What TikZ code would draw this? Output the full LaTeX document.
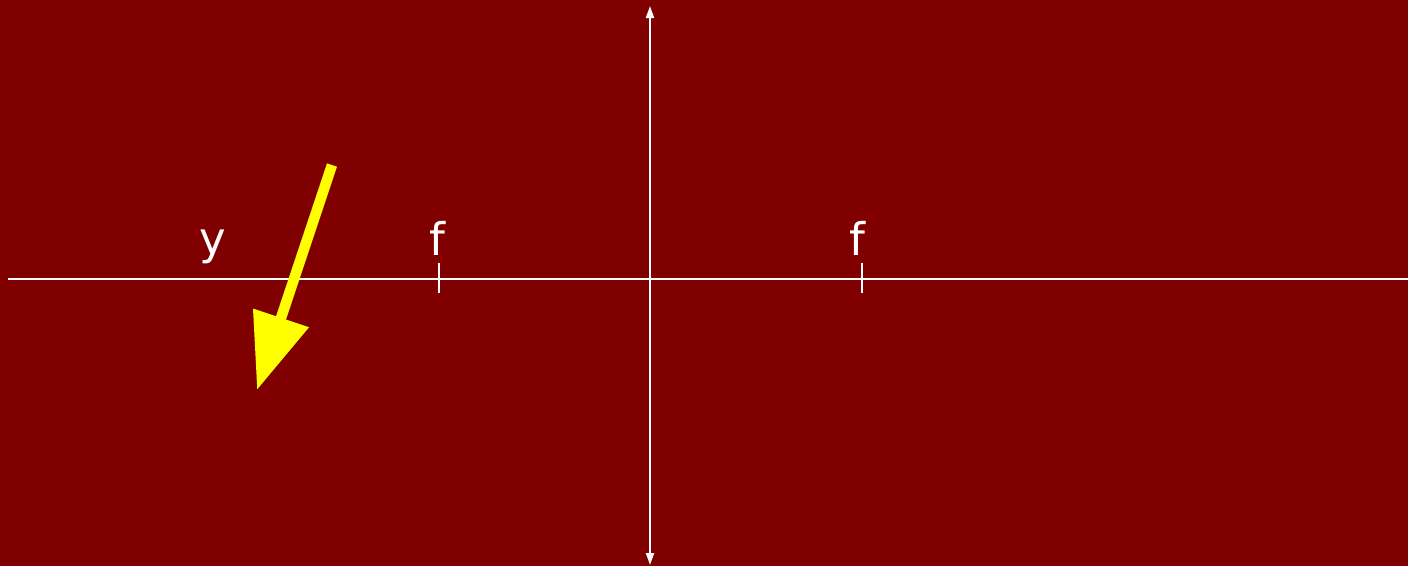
\documentclass[tikz,border=0pt]{standalone}
\usepackage{fontspec}
\setmainfont{DejaVu Sans}
\definecolor{board}{RGB}{128,0,0}
\definecolor{ray}{RGB}{255,255,0}
\usetikzlibrary{arrows.meta}
\tikzset{
  axis/.style={white,line width=2pt},
  tick/.style={white,line width=2pt},
  lbl/.style={text=white,font=\fontsize{45}{52}\selectfont,anchor=base,inner sep=0pt}
}
\begin{document}
\begin{tikzpicture}[x=1pt,y=-1pt]
        \fill[board] (0,0) rectangle (1408,566);
        \useasboundingbox (0,0) rectangle (1408,566);
        \coordinate (left) at (8,279);
        \coordinate (right) at (1408,279);
        \coordinate (top) at (650,6);
        \coordinate (bottom) at (650,565);
        \draw[axis] (left) -- (right);
        \draw[axis,{Triangle[length=12pt,width=8pt]}-{Triangle[length=12pt,width=8pt]}] (bottom) -- (top);
        % focal points
        \coordinate (f1) at (438.5,279);
        \coordinate (f2) at (861.5,279);
        \draw[tick] ([yshift=16.5pt]f1) -- ([yshift=-13.5pt]f1);
        \draw[tick] ([yshift=16.5pt]f2) -- ([yshift=-13.5pt]f2);
        \node[lbl] (lf1) at (437,255) {f};
        \node[lbl] (lf2) at (857,255) {f};
        \node[lbl] (ly) at (213,254) {y};
        % object
        \coordinate (tail) at (332,165);
        \coordinate (head) at (257,390);
        \draw[ray,line width=10.5pt,-{Triangle[length=76pt,width=56pt]}] (tail) -- (head);
      \end{tikzpicture}
\end{document}
